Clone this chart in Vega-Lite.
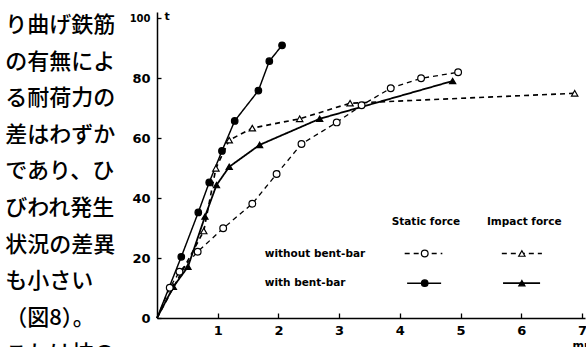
{
  "$schema": "https://vega.github.io/schema/vega-lite/v6.json",
  "width": 428,
  "height": 306,
  "autosize": "none",
  "padding": {"left": 157, "top": 12, "right": 1, "bottom": 29},
  "background": "white",
  "config": {
    "view": {"stroke": null},
    "font": "DejaVu Sans",
    "axis": {
      "domainColor": "black",
      "domainWidth": 1.5,
      "tickColor": "black",
      "tickWidth": 1.3,
      "grid": false,
      "labelColor": "black",
      "labelFont": "DejaVu Sans",
      "labelFontWeight": "bold",
      "labelFontSize": 13,
      "titleColor": "black",
      "titleFont": "DejaVu Sans"
    }
  },
  "datasets": {
    "jp": [
      {"line": 1, "text": "り曲げ鉄筋"},
      {"line": 2, "text": "の有無によ"},
      {"line": 3, "text": "る耐荷力の"},
      {"line": 4, "text": "差はわずか"},
      {"line": 5, "text": "であり、ひ"},
      {"line": 6, "text": "びわれ発生"},
      {"line": 7, "text": "状況の差異"},
      {"line": 8, "text": "も小さい"},
      {"line": 9, "text": "（図8）。"},
      {"line": 10, "text": "これは杭の"}
    ],
    "curves": [
      {"series": "static_with", "d": 0, "t": 0},
      {"series": "static_with", "d": 0.40, "t": 20.4},
      {"series": "static_with", "d": 0.68, "t": 35.2},
      {"series": "static_with", "d": 0.86, "t": 45.2},
      {"series": "static_with", "d": 1.07, "t": 55.7},
      {"series": "static_with", "d": 1.28, "t": 65.7},
      {"series": "static_with", "d": 1.67, "t": 75.8},
      {"series": "static_with", "d": 1.85, "t": 85.6},
      {"series": "static_with", "d": 2.06, "t": 90.9},
      {"series": "impact_with", "d": 0, "t": 0},
      {"series": "impact_with", "d": 0.27, "t": 10.4},
      {"series": "impact_with", "d": 0.51, "t": 17.1},
      {"series": "impact_with", "d": 0.79, "t": 33.8},
      {"series": "impact_with", "d": 0.98, "t": 44.3},
      {"series": "impact_with", "d": 1.19, "t": 50.4},
      {"series": "impact_with", "d": 1.69, "t": 57.7},
      {"series": "impact_with", "d": 2.68, "t": 66.4},
      {"series": "impact_with", "d": 4.87, "t": 79.0},
      {"series": "static_without", "d": 0, "t": 0},
      {"series": "static_without", "d": 0.21, "t": 10.1},
      {"series": "static_without", "d": 0.37, "t": 15.4},
      {"series": "static_without", "d": 0.67, "t": 22.1},
      {"series": "static_without", "d": 1.09, "t": 29.9},
      {"series": "static_without", "d": 1.57, "t": 38.1},
      {"series": "static_without", "d": 1.97, "t": 48.0},
      {"series": "static_without", "d": 2.38, "t": 58.0},
      {"series": "static_without", "d": 2.96, "t": 65.2},
      {"series": "static_without", "d": 3.37, "t": 70.9},
      {"series": "static_without", "d": 3.85, "t": 76.6},
      {"series": "static_without", "d": 4.35, "t": 79.9},
      {"series": "static_without", "d": 4.96, "t": 81.9},
      {"series": "impact_without", "d": 0, "t": 0},
      {"series": "impact_without", "d": 0.77, "t": 29.0},
      {"series": "impact_without", "d": 0.97, "t": 49.9},
      {"series": "impact_without", "d": 1.19, "t": 59.3},
      {"series": "impact_without", "d": 1.57, "t": 63.3},
      {"series": "impact_without", "d": 2.35, "t": 66.4},
      {"series": "impact_without", "d": 3.18, "t": 71.6},
      {"series": "impact_without", "d": 6.88, "t": 74.9}
    ],
    "legendLines": [
      {"series": "static_without", "d": 4.08, "t": 21.5},
      {"series": "static_without", "d": 4.70, "t": 21.5},
      {"series": "impact_without", "d": 5.68, "t": 21.5},
      {"series": "impact_without", "d": 6.34, "t": 21.5},
      {"series": "static_with", "d": 4.12, "t": 11.6},
      {"series": "static_with", "d": 4.68, "t": 11.6},
      {"series": "impact_with", "d": 5.70, "t": 11.6},
      {"series": "impact_with", "d": 6.31, "t": 11.6}
    ],
    "legendMarks": [
      {"series": "static_without", "d": 4.41, "t": 21.5},
      {"series": "impact_without", "d": 6.01, "t": 21.5},
      {"series": "static_with", "d": 4.41, "t": 11.6},
      {"series": "impact_with", "d": 6.01, "t": 11.6}
    ],
    "legendText": [
      {"label": "Static force", "d": 4.43, "t": 32.0, "kind": "header"},
      {"label": "Impact force", "d": 6.05, "t": 32.0, "kind": "header"},
      {"label": "without bent-bar", "d": 1.775, "t": 21.3, "kind": "row"},
      {"label": "with bent-bar", "d": 1.775, "t": 11.6, "kind": "row"}
    ]
  },
  "layer": [
    {
      "data": {"name": "jp"},
      "mark": {"type": "text", "align": "left", "baseline": "middle", "font": "Noto Sans CJK JP", "fontSize": 22, "fontWeight": 500, "color": "black"},
      "encoding": {
        "x": {"datum": -2.5, "type": "quantitative", "scale": {"domain": [0, 7.05], "nice": false, "zero": false}, "axis": null},
        "y": {"field": "line", "type": "quantitative", "scale": {"domain": [0.645, 9.006], "reverse": true, "nice": false, "zero": false}, "axis": null},
        "text": {"field": "text"}
      }
    },
    {
      "layer": [
        {
          "data": {"name": "curves"},
          "mark": {"type": "line", "color": "black"},
          "encoding": {
            "x": {"field": "d", "type": "quantitative", "scale": {"domain": [0, 7.05], "nice": false, "zero": false},
              "axis": {"values": [1, 2, 3, 4, 5, 6, 7], "format": "d", "tickSize": -5, "labelPadding": 11, "labelFlush": false, "title": "mm", "titleX": 415, "titleY": 27, "titleAlign": "left", "titleBaseline": "middle", "titleFontSize": 11, "titleFontWeight": "bold"}},
            "y": {"field": "t", "type": "quantitative", "scale": {"domain": [0, 102], "nice": false},
              "axis": {"values": [0, 20, 40, 60, 80, 100], "format": "d", "tickSize": -4, "labelPadding": 11, "labelFontSize": {"condition": {"test": "datum.value == 100", "value": 10}, "value": 13}, "title": "t", "titleAngle": 0, "titleX": 7, "titleY": 4, "titleAlign": "left", "titleBaseline": "middle", "titleFontSize": 11, "titleFontWeight": "bold"}},
            "detail": {"field": "series"},
            "strokeDash": {"field": "series", "type": "nominal", "scale": {"domain": ["static_without", "static_with", "impact_without", "impact_with"], "range": [[5, 4], [1, 0], [5, 4], [1, 0]]}, "legend": null},
            "strokeWidth": {"field": "series", "type": "nominal", "scale": {"domain": ["static_without", "static_with", "impact_without", "impact_with"], "range": [1.3, 1.8, 1.3, 1.8]}, "legend": null}
          }
        },
        {
          "data": {"name": "legendLines"},
          "mark": {"type": "line", "color": "black"},
          "encoding": {
            "x": {"field": "d", "type": "quantitative"},
            "y": {"field": "t", "type": "quantitative"},
            "detail": {"field": "series"},
            "strokeDash": {"field": "series", "type": "nominal", "legend": null},
            "strokeWidth": {"field": "series", "type": "nominal", "legend": null}
          }
        },
        {
          "data": {"name": "curves"},
          "transform": [{"filter": "datum.d > 0"}],
          "mark": {"type": "point", "stroke": "black", "strokeWidth": 1.2, "opacity": 1, "fillOpacity": 1},
          "encoding": {
            "x": {"field": "d", "type": "quantitative"},
            "y": {"field": "t", "type": "quantitative"},
            "shape": {"field": "series", "type": "nominal", "scale": {"domain": ["static_without", "static_with", "impact_without", "impact_with"], "range": ["circle", "circle", "triangle-up", "triangle-up"]}, "legend": null},
            "fill": {"field": "series", "type": "nominal", "scale": {"domain": ["static_without", "static_with", "impact_without", "impact_with"], "range": ["white", "black", "white", "black"]}, "legend": null},
            "size": {"field": "series", "type": "nominal", "scale": {"domain": ["static_without", "static_with", "impact_without", "impact_with"], "range": [45, 38, 60, 60]}, "legend": null}
          }
        },
        {
          "data": {"name": "legendMarks"},
          "mark": {"type": "point", "stroke": "black", "strokeWidth": 1.2, "opacity": 1, "fillOpacity": 1},
          "encoding": {
            "x": {"field": "d", "type": "quantitative"},
            "y": {"field": "t", "type": "quantitative"},
            "shape": {"field": "series", "type": "nominal", "legend": null},
            "fill": {"field": "series", "type": "nominal", "legend": null},
            "size": {"field": "series", "type": "nominal", "legend": null}
          }
        },
        {
          "data": {"name": "legendText"},
          "transform": [{"filter": "datum.kind == 'header'"}],
          "mark": {"type": "text", "align": "center", "baseline": "middle", "font": "DejaVu Sans", "fontWeight": "bold", "fontSize": 10.5, "color": "black"},
          "encoding": {
            "x": {"field": "d", "type": "quantitative"},
            "y": {"field": "t", "type": "quantitative"},
            "text": {"field": "label"}
          }
        },
        {
          "data": {"name": "legendText"},
          "transform": [{"filter": "datum.kind == 'row'"}],
          "mark": {"type": "text", "align": "left", "baseline": "middle", "font": "DejaVu Sans", "fontWeight": "bold", "fontSize": 10.5, "color": "black"},
          "encoding": {
            "x": {"field": "d", "type": "quantitative"},
            "y": {"field": "t", "type": "quantitative"},
            "text": {"field": "label"}
          }
        }
      ]
    }
  ],
  "resolve": {"scale": {"x": "independent", "y": "independent"}}
}
